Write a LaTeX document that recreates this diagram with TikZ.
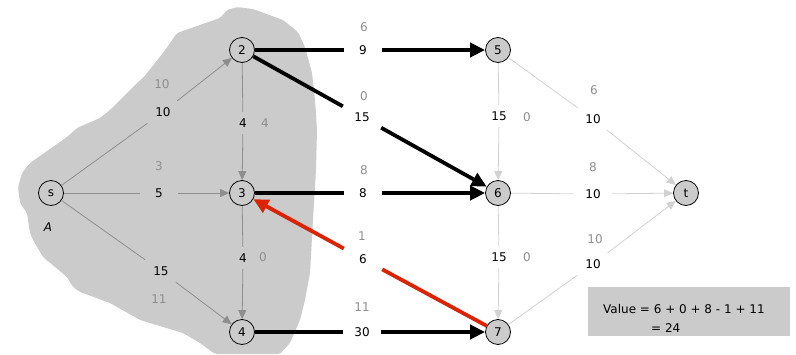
\documentclass[tikz,border=0pt]{standalone}
\usepackage{fontspec}
\setmainfont{DejaVu Sans}
\usetikzlibrary{arrows.meta}
\definecolor{blobgray}{HTML}{CBCBCB}
\definecolor{ein}{HTML}{8E8E8E}
\definecolor{eout}{HTML}{D2D2D2}
\definecolor{flowgray}{HTML}{8E8E8E}
\definecolor{redarc}{HTML}{DD2200}
\begin{document}
\begin{tikzpicture}[x=1pt,y=-1pt,
  every node/.style={font=\fontsize{12}{14}\selectfont},
  vtx/.style={circle,draw=black,fill=blobgray,minimum size=25pt,inner sep=0pt,line width=0.8pt},
  caplabel/.style={minimum width=38pt,minimum height=22pt,inner sep=0pt},
  flw/.style={text=flowgray,inner sep=0pt},
  thinedge/.style={draw=ein,line width=0.8pt},
  thinarr/.style={thinedge,-{Triangle[length=9pt,width=8pt]}},
  lightedge/.style={draw=eout,line width=0.8pt},
  lightarr/.style={lightedge,-{Triangle[length=9pt,width=8pt]}},
  heavy/.style={draw=black,line width=3.8pt},
  heavyarr/.style={heavy,-{Triangle[length=15pt,width=14pt]}}]
\useasboundingbox (0,0) rectangle (796,354);
% cut region A
\fill[blobgray,rounded corners=2pt] (227,10) -- (237,7) -- (253,9) -- (283,20) -- (298,32) -- (305,47) -- (312,73) -- (315,100) -- (317,130) -- (316,170) -- (313,220) -- (310,273) -- (305,300) -- (300,320) -- (290,343) -- (280,354) -- (215,354) -- (200,343) -- (183,333) -- (140,320) -- (110,303) -- (80,292) -- (73,287) -- (67,277) -- (43,257) -- (33,240) -- (30,233) -- (27,213) -- (20,203) -- (18,187) -- (22,173) -- (30,163) -- (67,137) -- (77,128) -- (100,118) -- (110,110) -- (133,87) -- (137,83) -- (143,78) -- (163,53) -- (177,33) -- (220,18) -- cycle;
% vertices
\node[vtx] (s) at (51,193) {s};
\node[vtx] (n2) at (242,50) {2};
\node[vtx] (n3) at (242,193) {3};
\node[vtx] (n4) at (242,332) {4};
\node[vtx] (n5) at (498,50) {5};
\node[vtx] (n6) at (498,193) {6};
\node[vtx] (n7) at (498,332) {7};
\node[vtx] (t) at (686,193) {t};
\node[font=\fontsize{12}{14}\selectfont\itshape] (A) at (48,227) {A};
% capacity labels
\node[caplabel] (cs2) at (163,112) {10};
\node[caplabel] (cs3) at (159,193) {5};
\node[caplabel] (cs4) at (161,271) {15};
\node[caplabel] (c23) at (243,123) {4};
\node[caplabel] (c34) at (243,258) {4};
\node[caplabel] (c25) at (363,50) {9};
\node[caplabel] (c26) at (362,117) {15};
\node[caplabel] (c36) at (363,193) {8};
\node[caplabel] (c73) at (363,259) {6};
\node[caplabel] (c47) at (362,332) {30};
\node[caplabel] (c56) at (499,116) {15};
\node[caplabel] (c67) at (499,257) {15};
\node[caplabel] (c5t) at (593,119) {10};
\node[caplabel] (c6t) at (593,194) {10};
\node[caplabel] (c7t) at (593,264) {10};
% flow labels
\node[flw] (fs2) at (162,84) {10};
\node[flw] (fs3) at (159,166) {3};
\node[flw] (fs4) at (159,299) {11};
\node[flw] (f23) at (265,123) {4};
\node[flw] (f34) at (263,257) {0};
\node[flw] (f25) at (364,27) {6};
\node[flw] (f26) at (364,96) {0};
\node[flw] (f36) at (364,170) {8};
\node[flw] (f73) at (362,236) {1};
\node[flw] (f47) at (362,307) {11};
\node[flw] (f56) at (527,117) {0};
\node[flw] (f67) at (527,257) {0};
\node[flw] (f5t) at (594,90) {6};
\node[flw] (f6t) at (593,167) {8};
\node[flw] (f7t) at (595,239) {10};
% edges inside A
\draw[thinedge] (s) -- (cs2); \draw[thinarr] (cs2) -- (n2);
\draw[thinedge] (s) -- (cs3); \draw[thinarr] (cs3) -- (n3);
\draw[thinedge] (s) -- (cs4); \draw[thinarr] (cs4) -- (n4);
\draw[thinedge] (n2) -- (c23); \draw[thinarr] (c23) -- (n3);
\draw[thinedge] (n3) -- (c34); \draw[thinarr] (c34) -- (n4);
% cut edges
\draw[heavy] (n2) -- (c25); \draw[heavyarr] (c25) -- (n5);
\draw[heavy] (n2) -- (c26); \draw[heavyarr] (c26) -- (n6);
\draw[heavy] (n3) -- (c36); \draw[heavyarr] (c36) -- (n6);
\draw[heavy] (n4) -- (c47); \draw[heavyarr] (c47) -- (n7);
\draw[heavy,draw=redarc] (n7) -- (c73); \draw[heavyarr,draw=redarc] (c73) -- (n3);
% edges outside A
\draw[lightedge] (n5) -- (c56); \draw[lightarr] (c56) -- (n6);
\draw[lightedge] (n6) -- (c67); \draw[lightarr] (c67) -- (n7);
\draw[lightedge] (n5) -- (c5t); \draw[lightarr] (c5t) -- (t);
\draw[lightedge] (n6) -- (c6t); \draw[lightarr] (c6t) -- (t);
\draw[lightedge] (n7) -- (c7t); \draw[lightarr] (c7t) -- (t);
% value box
\node[fill=blobgray,minimum width=202pt,minimum height=49pt,inner sep=0pt] (vbox) at (689,311.5) {};
\node[anchor=west,inner sep=0pt] (val1) at (603,309) {Value = 6 + 0 + 8 - 1 + 11};
\node[anchor=west,inner sep=0pt] (val2) at (651,328) {= 24};
\end{tikzpicture}
\end{document}
